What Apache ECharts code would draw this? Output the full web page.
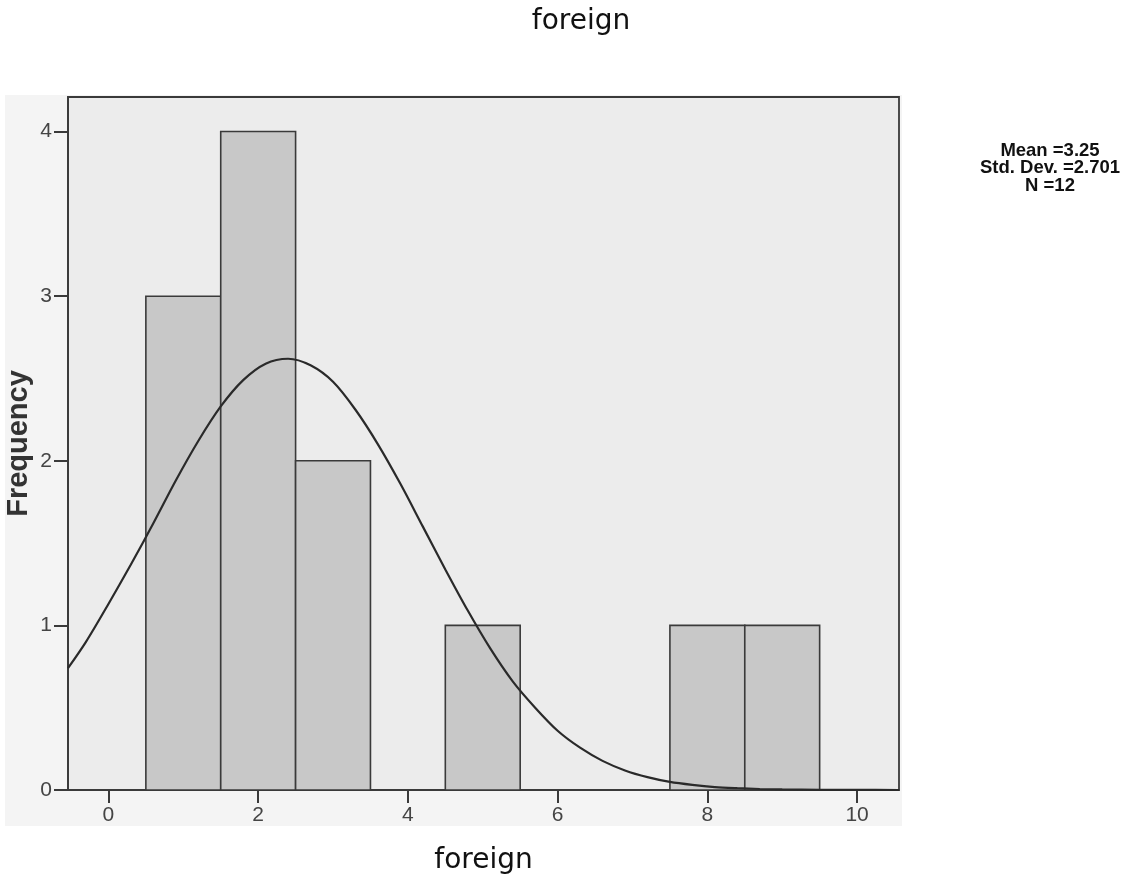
<!DOCTYPE html>
<html>
<head>
<meta charset="utf-8">
<script src="https://cdn.jsdelivr.net/npm/echarts@6/dist/echarts.min.js"></script>
<style>
html,body{margin:0;padding:0;background:#fff;}
#c{width:1126px;height:881px;}
</style>
</head>
<body>
<div id="c"></div>
<script>
// Histogram bins (bin centres) and frequencies
const binCenters = [1, 2, 3, 5, 8, 9];
const frequencies = [3, 4, 2, 1, 1, 1];
// Normal curve
const curveX = [-0.54, -0.3, 0, 0.3, 0.6, 0.9, 1.2, 1.5, 1.8, 2.1, 2.4, 2.7, 3.0, 3.3, 3.6, 3.9, 4.2, 4.5, 4.8, 5.1, 5.4, 5.7, 6.0, 6.3, 6.6, 6.9, 7.2, 7.5, 7.8, 8.1, 8.4, 8.7, 9.0, 9.5, 10, 10.56];
const curveY = [0.74, 0.9, 1.13, 1.37, 1.62, 1.88, 2.12, 2.33, 2.49, 2.59, 2.62, 2.58, 2.48, 2.31, 2.1, 1.86, 1.6, 1.34, 1.09, 0.86, 0.66, 0.5, 0.36, 0.257, 0.177, 0.119, 0.078, 0.049, 0.031, 0.018, 0.011, 0.006, 0.0035, 0.0012, 0.0004, 0.0001];
const xTicks = [0, 2, 4, 6, 8, 10];
const yTicks = [0, 1, 2, 3, 4];
const statsLines = ['Mean =3.25', 'Std. Dev. =2.701', 'N =12'];
const titleText = 'foreign';
const xName = 'foreign';
const yName = 'Frequency';

const chart = echarts.init(document.getElementById('c'));
const font = 'Liberation Sans, Arial, sans-serif';
const wideFont = 'DejaVu Sans, sans-serif';
const lineColor = '#3a3a3a';

const option = {
  backgroundColor: '#ffffff',
  animation: false,
  graphic: [
    {type: 'rect', z: -10, silent: true, shape: {x: 5, y: 95, width: 897, height: 731}, style: {fill: '#f4f4f4'}},
    {type: 'text', z: 10, x: 581, y: 22,
      style: {text: titleText, fontFamily: wideFont, fontSize: 28, fill: '#111', align: 'center', verticalAlign: 'middle'}},
    {type: 'text', z: 10, x: 1050, y: 142,
      style: {text: statsLines.join('\n'), fontFamily: font, fontSize: 18.5, fontWeight: 'bold', fill: '#111', align: 'center', lineHeight: 17.5}}
  ],
  grid: {left: 68, right: 227, top: 97, bottom: 91, outerBoundsMode: 'none', containLabel: false,
    show: true, backgroundColor: '#ececec', borderColor: lineColor, borderWidth: 1.8},
  xAxis: {
    type: 'value', min: -0.54, max: 10.56,
    name: xName, nameLocation: 'middle', nameGap: 57,
    nameTextStyle: {fontFamily: wideFont, fontSize: 28, color: '#111'},
    axisLine: {show: true, onZero: false, lineStyle: {color: lineColor, width: 1.8}},
    axisTick: {show: true, customValues: xTicks, length: 13, lineStyle: {color: lineColor, width: 2}},
    axisLabel: {customValues: xTicks, margin: 15, fontFamily: font, fontSize: 21, color: '#444'},
    splitLine: {show: false}
  },
  yAxis: {
    type: 'value', min: 0, max: 4.21,
    name: yName, nameLocation: 'middle', nameGap: 35, nameMoveOverlap: false,
    nameTextStyle: {fontFamily: font, fontSize: 29, fontWeight: 'bold', color: '#333'},
    axisLine: {show: true, onZero: false, lineStyle: {color: lineColor, width: 1.8}},
    axisTick: {show: true, customValues: yTicks, length: 14, lineStyle: {color: lineColor, width: 2}},
    axisLabel: {customValues: yTicks, margin: 16, fontFamily: font, fontSize: 21, color: '#444'},
    splitLine: {show: false}
  },
  series: [
    {
      type: 'custom',
      data: binCenters.map((c, i) => [c, frequencies[i]]),
      renderItem: function (params, api) {
        const c = api.value(0), f = api.value(1);
        const p1 = api.coord([c - 0.5, f]);
        const p2 = api.coord([c + 0.5, 0]);
        return {
          type: 'rect',
          shape: {x: p1[0], y: p1[1], width: p2[0] - p1[0], height: p2[1] - p1[1]},
          style: {fill: '#c8c8c8', stroke: lineColor, lineWidth: 1.6}
        };
      },
      z: 2
    },
    {
      type: 'line',
      data: curveX.map((x, i) => [x, curveY[i]]),
      smooth: 0.3,
      showSymbol: false,
      lineStyle: {color: '#2a2a2a', width: 2.2},
      z: 3
    }
  ]
};
chart.setOption(option);
</script>
</body>
</html>
